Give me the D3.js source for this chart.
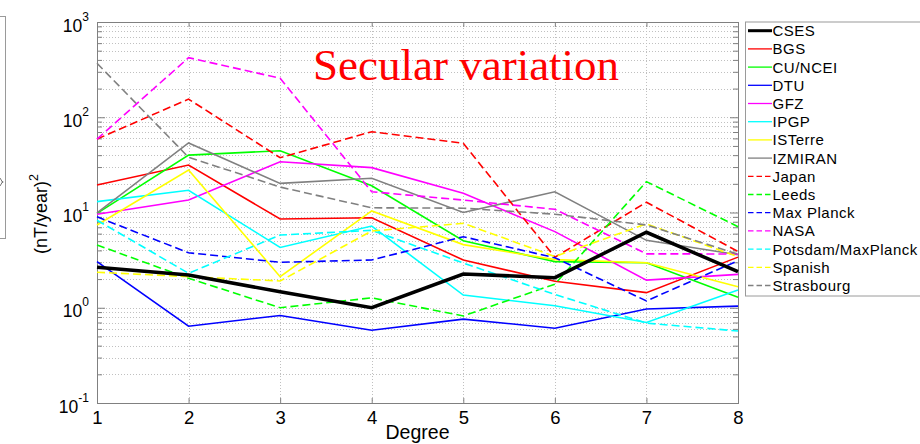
<!DOCTYPE html>
<html>
<head>
<meta charset="utf-8">
<script src="https://cdn.jsdelivr.net/npm/d3@7"></script>
<style>
  html, body { margin: 0; padding: 0; background: #fff; }
  svg { display: block; }
  .axis text { font-family: "Liberation Sans", Arial, sans-serif; fill: #000; }
</style>
</head>
<body>
<svg id="chart" width="920" height="444"></svg>
<script>
// Spherical-harmonic degree on the x axis
const degrees = [1, 2, 3, 4, 5, 6, 7, 8];

// Secular variation power spectra, (nT/year)^2, per model
const cses       = [2.66, 2.21, 1.47, 1.0, 2.26, 2.07, 6.2, 2.39];
const bgs        = [19.4, 31.5, 8.55, 8.8, 3.17, 1.9, 1.44, 3.4];
const cuNcei     = [9.8, 40, 44.5, 19.1, 5.06, 3.05, 2.97, 1.29];
const dtu        = [3.05, 0.64, 0.83, 0.58, 0.76, 0.61, 0.97, 1.04];
const gfz        = [9.6, 13.5, 34.1, 29.6, 15.9, 6.3, 1.95, 2.24];
const ipgp       = [13.0, 17.1, 4.3, 7.2, 1.36, 1.05, 0.70, 1.54];
const isterre    = [7.4, 27.9, 2.12, 10.4, 4.6, 3.2, 2.97, 1.66];
const izmiran    = [9.9, 53.7, 20.2, 22.9, 10.0, 16.5, 5.1, 3.6];
const japan      = [59, 155, 37.6, 70.5, 53.3, 3.39, 12.8, 3.9];
const leeds      = [4.56, 2.04, 1.0, 1.27, 0.82, 1.77, 21.1, 7.1];
const maxPlanck  = [9.0, 3.78, 3.0, 3.17, 5.57, 3.35, 1.18, 3.12];
const nasa       = [59, 422, 257, 16.5, 13.5, 10.8, 3.68, 3.67];
const potsdam    = [8.3, 2.30, 5.8, 6.5, 2.95, 1.38, 0.69, 0.57];
const spanish    = [2.36, 2.12, 1.91, 6.4, 7.7, 3.45, 7.6, 3.44];
const strasbourg = [369, 38, 18.5, 11.2, 11.1, 9.6, 7.4, 3.65];

const seriesNames = ["CSES", "BGS", "CU/NCEI", "DTU", "GFZ", "IPGP", "ISTerre", "IZMIRAN",
  "Japan", "Leeds", "Max Planck", "NASA", "Potsdam/MaxPlanck", "Spanish", "Strasbourg"];
const seriesValues = [cses, bgs, cuNcei, dtu, gfz, ipgp, isterre, izmiran,
  japan, leeds, maxPlanck, nasa, potsdam, spanish, strasbourg];

// Line styles, in legend order
const colours = ["#000000", "#ff0000", "#00ff00", "#0000ff", "#ff00ff", "#00ffff", "#ffff00", "#808080",
  "#ff0000", "#00ff00", "#0000ff", "#ff00ff", "#00ffff", "#ffff00", "#808080"];
const dashed = [false, false, false, false, false, false, false, false,
  true, true, true, true, true, true, true];

// Axis tick labels
const xTickValues = [1, 2, 3, 4, 5, 6, 7, 8];
const yDecades = [-1, 0, 1, 2, 3];

const series = seriesNames.map((name, i) => ({
  name, values: seriesValues[i], colour: colours[i], dashed: dashed[i], bold: i === 0
}));

const svg = d3.select("#chart");
const plotLeft = 97, plotRight = 738, plotTop = 22, plotBottom = 403;
const axisColour = "#808080";
const font = '"Liberation Sans", Arial, sans-serif';

const x = d3.scaleLinear().domain([1, 8]).range([plotLeft, plotRight]);
const y = d3.scaleLog().domain([0.1, 1000]).range([plotBottom, plotTop]);

// Edge of the neighbouring panel's legend frame, with a clipped glyph stroke
svg.append("rect").attr("x", -20).attr("y", 16.5).attr("width", 25.5).attr("height", 222)
  .attr("fill", "none").attr("stroke", "#9a9a9a").attr("stroke-width", 1);
svg.append("path").attr("d", "M0,178 L3,183 M0,186 L3,181")
  .attr("fill", "none").attr("stroke", "#666").attr("stroke-width", 0.9);

// Log-scale tick positions (every 1..9 x 10^n)
const logTicks = [];
for (let e = -1; e < 3; e++) for (let k = 1; k <= 9; k++) logTicks.push(k * Math.pow(10, e));
logTicks.push(1000);

// Dotted grid
const grid = svg.append("g").attr("stroke", "#c0c0c0").attr("stroke-width", 1)
  .attr("stroke-dasharray", "1,2");
grid.selectAll("line.h").data(logTicks.filter(v => v > 0.1 && v < 1000)).join("line")
  .attr("class", "h")
  .attr("x1", plotLeft).attr("x2", plotRight)
  .attr("y1", d => Math.round(y(d)) + 0.5).attr("y2", d => Math.round(y(d)) + 0.5);
grid.selectAll("line.v").data(xTickValues.filter(d => d > 1 && d < 8)).join("line")
  .attr("class", "v")
  .attr("y1", plotTop).attr("y2", plotBottom)
  .attr("x1", d => Math.round(x(d)) + 0.5).attr("x2", d => Math.round(x(d)) + 0.5);

// Axes with inward ticks
const isDecade = v => Math.abs(Math.log10(v) - Math.round(Math.log10(v))) < 1e-9;

function styleAxis(g) {
  g.select(".domain").attr("stroke", axisColour);
  g.selectAll(".tick line").attr("stroke", axisColour);
}

const xBottom = svg.append("g").attr("class", "axis")
  .attr("transform", `translate(0,${plotBottom})`)
  .call(d3.axisBottom(x).tickValues(xTickValues).tickFormat(d3.format("d"))
    .tickSizeInner(-5).tickSizeOuter(0).tickPadding(8));
xBottom.selectAll(".tick text").attr("font-size", 18.5).attr("font-family", font).attr("dy", "0.71em");
styleAxis(xBottom);

const xTop = svg.append("g").attr("transform", `translate(0,${plotTop})`)
  .call(d3.axisTop(x).tickValues(xTickValues).tickFormat("").tickSizeInner(-5).tickSizeOuter(0));
styleAxis(xTop);

const yLeft = svg.append("g").attr("class", "axis")
  .attr("transform", `translate(${plotLeft},0)`)
  .call(d3.axisLeft(y).tickValues(logTicks).tickFormat("").tickSizeInner(-5).tickSizeOuter(0));
yLeft.selectAll(".tick line").attr("x2", d => isDecade(d) ? 8 : 5);
styleAxis(yLeft);

const yRight = svg.append("g").attr("transform", `translate(${plotRight},0)`)
  .call(d3.axisRight(y).tickValues(logTicks).tickFormat("").tickSizeInner(-5).tickSizeOuter(0));
yRight.selectAll(".tick line").attr("x2", d => isDecade(d) ? -8 : -5);
styleAxis(yRight);

// Frame
svg.append("rect").attr("x", plotLeft + 0.5).attr("y", plotTop + 0.5)
  .attr("width", plotRight - plotLeft).attr("height", plotBottom - plotTop)
  .attr("fill", "none").attr("stroke", axisColour).attr("stroke-width", 1);

// Decade labels 10^n
const yLabels = svg.append("g").attr("font-family", font).attr("fill", "#000");
yDecades.forEach(e => {
  const t = yLabels.append("text")
    .attr("x", 89).attr("y", y(Math.pow(10, e)) + 9.5)
    .attr("text-anchor", "end").attr("font-size", 17.5);
  t.append("tspan").text("10");
  t.append("tspan").attr("font-size", 12).attr("dy", -11).text(String(e));
});

// Axis titles
svg.append("text").attr("x", (plotLeft + plotRight) / 2).attr("y", 438.5)
  .attr("text-anchor", "middle").attr("font-family", font).attr("font-size", 19.5)
  .text("Degree");

const yTitle = svg.append("text")
  .attr("transform", "translate(46.5,214) rotate(-90)")
  .attr("text-anchor", "middle").attr("font-family", font).attr("font-size", 18);
yTitle.append("tspan").text("(nT/year)");
yTitle.append("tspan").attr("font-size", 12.5).attr("dy", -9).text("2");

// Series lines (reference model drawn last, on top)
const line = d3.line().x((d, i) => x(degrees[i])).y(d => y(d));
const plot = svg.append("g");
const drawOrder = series.slice(1).concat(series.slice(0, 1));
plot.selectAll("path").data(drawOrder).join("path")
  .attr("d", d => line(d.values))
  .attr("fill", "none")
  .attr("stroke", d => d.colour)
  .attr("stroke-width", d => d.bold ? 3.5 : 1.6)
  .attr("stroke-linejoin", "miter")
  .attr("stroke-dasharray", d => d.dashed ? "8,4" : null);

// Plot title
svg.append("text").attr("x", 313).attr("y", 80)
  .attr("font-family", '"Liberation Serif", "Times New Roman", serif')
  .attr("font-size", 45).attr("fill", "#ff0000")
  .text("Secular variation");

// Legend
const legendTop = 21.5, rowH = 18.2;
svg.append("rect").attr("x", 745.5).attr("y", legendTop + 0.5)
  .attr("width", 200).attr("height", 274)
  .attr("fill", "#fff").attr("stroke", "#9a9a9a").attr("stroke-width", 1);
const legend = svg.append("g");
const rows = legend.selectAll("g").data(series).join("g")
  .attr("transform", (d, i) => `translate(0,${30.7 + i * rowH})`);
rows.append("line").attr("x1", 748).attr("x2", 772).attr("y1", 0).attr("y2", 0)
  .attr("stroke", d => d.colour)
  .attr("stroke-width", d => d.bold ? 3 : 1.3)
  .attr("stroke-dasharray", d => d.dashed ? "5.5,3" : null);
rows.append("text").attr("x", 772.5).attr("y", 5.5)
  .attr("font-family", font).attr("font-size", 15).attr("letter-spacing", 0.5)
  .text(d => d.name);
</script>
</body>
</html>
